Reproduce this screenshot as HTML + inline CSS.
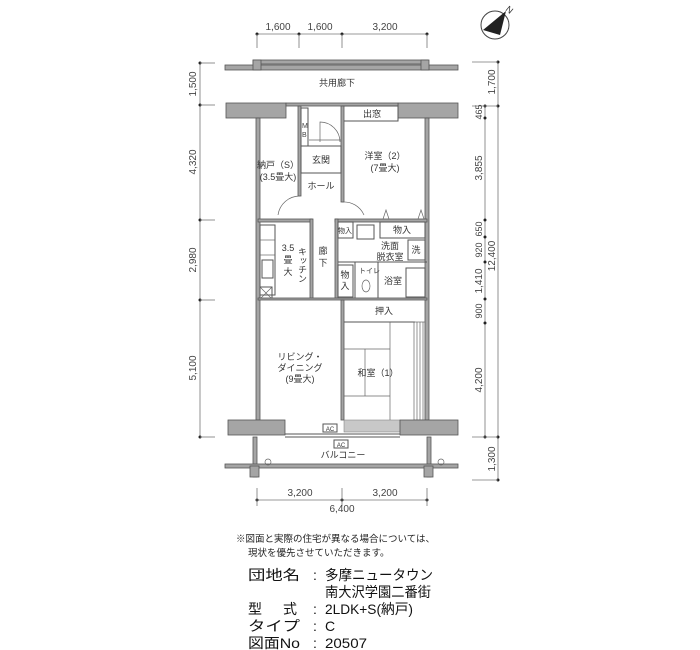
<!DOCTYPE html>
<html><head><meta charset="utf-8"><style>
html,body{margin:0;padding:0;background:#fff;}
svg{display:block;font-family:"Liberation Sans","Noto Sans CJK JP",sans-serif;}
.w{fill:#a5a5a5;stroke:#555;stroke-width:0.8}
.l{stroke:#555;stroke-width:1;fill:none}
.t{stroke:#666;stroke-width:0.7;fill:none}
.d{stroke:#777;stroke-width:0.8;fill:none}
.s{font-size:9px;fill:#333}
.dm{font-size:10px;fill:#444}
</style></head><body>
<svg width="700" height="650" viewBox="0 0 700 650" xmlns="http://www.w3.org/2000/svg">
<!-- top dimension -->
<line class="d" x1="257" y1="34" x2="427" y2="34"/>
<g fill="#222"><circle cx="257" cy="34" r="1.5"/><circle cx="299" cy="34" r="1.5"/><circle cx="342" cy="34" r="1.5"/><circle cx="427" cy="34" r="1.5"/></g>
<line class="d" x1="257" y1="34" x2="257" y2="48"/><line class="d" x1="299" y1="34" x2="299" y2="48"/><line class="d" x1="342" y1="34" x2="342" y2="48"/><line class="d" x1="427" y1="34" x2="427" y2="48"/>
<text class="dm" x="278" y="30" text-anchor="middle">1,600</text>
<text class="dm" x="320" y="30" text-anchor="middle">1,600</text>
<text class="dm" x="385" y="30" text-anchor="middle">3,200</text>
<!-- compass -->
<circle cx="495" cy="25" r="14" fill="none" stroke="#444" stroke-width="1"/>
<polygon points="483,30 506,11 500,35" fill="#222"/>
<text x="505" y="10" font-size="9" fill="#333" transform="rotate(40 505 10)">N</text>

<!-- left dimension -->
<line class="d" x1="200" y1="63" x2="200" y2="437"/>
<g fill="#222"><circle cx="200" cy="63" r="1.5"/><circle cx="200" cy="105" r="1.5"/><circle cx="200" cy="220" r="1.5"/><circle cx="200" cy="300" r="1.5"/><circle cx="200" cy="437" r="1.5"/></g>
<g class="d"><line x1="200" y1="63" x2="215" y2="63"/><line x1="200" y1="105" x2="215" y2="105"/><line x1="200" y1="220" x2="215" y2="220"/><line x1="200" y1="300" x2="215" y2="300"/><line x1="200" y1="437" x2="215" y2="437"/></g>
<g class="dm" text-anchor="middle">
<text transform="translate(196 84) rotate(-90)">1,500</text>
<text transform="translate(196 162) rotate(-90)">4,320</text>
<text transform="translate(196 260) rotate(-90)">2,980</text>
<text transform="translate(196 368) rotate(-90)">5,100</text>
</g>
<!-- right dimensions -->
<line class="d" x1="485" y1="106" x2="485" y2="437"/>
<line class="d" x1="498" y1="62" x2="498" y2="480"/>
<g fill="#222">
<circle cx="498" cy="62" r="1.5"/><circle cx="498" cy="106" r="1.5"/><circle cx="498" cy="437" r="1.5"/><circle cx="498" cy="480" r="1.5"/>
<circle cx="485" cy="106" r="1.5"/><circle cx="485" cy="118" r="1.5"/><circle cx="485" cy="220" r="1.5"/><circle cx="485" cy="237" r="1.5"/><circle cx="485" cy="262" r="1.5"/><circle cx="485" cy="299" r="1.5"/><circle cx="485" cy="323" r="1.5"/><circle cx="485" cy="437" r="1.5"/>
</g>
<g class="d"><line x1="472" y1="62" x2="498" y2="62"/><line x1="472" y1="106" x2="498" y2="106"/><line x1="472" y1="437" x2="498" y2="437"/><line x1="472" y1="480" x2="498" y2="480"/></g>
<g class="dm" text-anchor="middle">
<text transform="translate(495 82) rotate(-90)">1,700</text>
<text transform="translate(482 112) rotate(-90)" font-size="9">465</text>
<text transform="translate(482 168) rotate(-90)">3,855</text>
<text transform="translate(482 229) rotate(-90)" font-size="9">650</text>
<text transform="translate(482 250) rotate(-90)" font-size="9">920</text>
<text transform="translate(482 281) rotate(-90)">1,410</text>
<text transform="translate(482 311) rotate(-90)" font-size="9">900</text>
<text transform="translate(482 380) rotate(-90)">4,200</text>
<text transform="translate(495 256) rotate(-90)">12,400</text>
<text transform="translate(495 459) rotate(-90)">1,300</text>
</g>

<!-- corridor parapet -->
<rect class="w" x="225" y="65" width="233" height="5"/>
<rect class="w" x="253" y="60" width="175" height="4"/>
<rect class="w" x="253" y="60" width="8" height="10"/><rect class="w" x="421" y="60" width="8" height="10"/>
<text class="s" x="337" y="86" text-anchor="middle">共用廊下</text>

<!-- top building wall -->
<rect class="w" x="226" y="103" width="60" height="15"/>
<rect class="w" x="398" y="103" width="60" height="15"/>
<rect class="w" x="286" y="103" width="112" height="3"/>
<rect class="l" x="343" y="106" width="55" height="15"/>
<text class="s" x="372" y="117" text-anchor="middle">出窓</text>

<!-- exterior walls -->
<rect class="w" x="256" y="118" width="4" height="302"/>
<rect class="w" x="425" y="118" width="4" height="302"/>

<!-- upper rooms -->
<rect class="w" x="298" y="106" width="3" height="90"/>
<rect class="w" x="341" y="106" width="3" height="96"/>
<rect class="l" x="301" y="108" width="7" height="38"/>
<text x="302" y="128" font-size="7" fill="#444">M</text><text x="302" y="137" font-size="7" fill="#444">B</text>
<line class="t" x1="309" y1="140" x2="341" y2="140"/>
<path class="t" d="M340 142 A 20 20 0 0 0 320 122 L320 142"/>
<rect class="l" x="301" y="146" width="40" height="27"/>
<text class="s" x="321" y="163" text-anchor="middle">玄関</text>
<text class="s" x="321" y="189" text-anchor="middle">ホール</text>
<text class="s" x="278" y="168" text-anchor="middle">納戸（S）</text>
<text class="s" x="278" y="180" text-anchor="middle">(3.5畳大)</text>
<text class="s" x="385" y="159" text-anchor="middle">洋室（2）</text>
<text class="s" x="385" y="171" text-anchor="middle">(7畳大)</text>
<path class="t" d="M278 215 A 22 22 0 0 1 300 196"/>
<path class="t" d="M342 202 A 22 22 0 0 1 364 215"/>

<!-- middle band walls -->
<rect class="w" x="258" y="219" width="54" height="3"/>
<rect class="w" x="335" y="219" width="92" height="3"/>
<rect class="w" x="310" y="219" width="3" height="80"/>
<rect class="w" x="335" y="219" width="3" height="80"/>
<rect class="l" x="260" y="225" width="15" height="70"/>
<line class="t" x1="260" y1="240" x2="275" y2="240"/><line class="t" x1="260" y1="255" x2="275" y2="255"/>
<rect class="l" x="262" y="260" width="11" height="18"/>
<rect class="l" x="260" y="287" width="12" height="12"/><path class="t" d="M260 287 L272 299 M272 287 L260 299"/>
<text class="s" x="288" y="251" text-anchor="middle">3.5</text>
<text class="s" x="288" y="263" text-anchor="middle">畳</text>
<text class="s" x="288" y="275" text-anchor="middle">大</text>
<text class="s" x="302" y="247" writing-mode="tb">キッチン</text>
<text class="s" x="323" y="254" text-anchor="middle">廊</text>
<text class="s" x="323" y="266" text-anchor="middle">下</text>
<rect class="l" x="338" y="222" width="15" height="16"/><text x="345" y="233" font-size="7" fill="#333" text-anchor="middle">物入</text>
<rect class="l" x="357" y="225" width="17" height="14"/>
<rect class="l" x="380" y="222" width="45" height="16"/><text class="s" x="402" y="233" text-anchor="middle">物入</text>
<path class="t" d="M383 219 L386 210 L389 219 M418 219 L421 210 L424 219"/>
<text class="s" x="390" y="249" text-anchor="middle">洗面</text>
<text class="s" x="390" y="260" text-anchor="middle">脱衣室</text>
<rect class="l" x="408" y="240" width="17" height="20"/><text class="s" x="416" y="253" text-anchor="middle">洗</text>
<line class="l" x1="338" y1="262" x2="427" y2="262"/>
<rect class="l" x="338" y="265" width="15" height="32"/><text class="s" x="345" y="278" text-anchor="middle">物</text><text class="s" x="345" y="289" text-anchor="middle">入</text>
<line class="l" x1="355" y1="262" x2="355" y2="299"/>
<line class="l" x1="378" y1="262" x2="378" y2="299"/>
<text x="359" y="273" font-size="7" fill="#333">トイレ</text>
<ellipse class="t" cx="366" cy="286" rx="4" ry="6"/>
<text class="s" x="393" y="284" text-anchor="middle">浴室</text>
<rect class="l" x="406" y="268" width="19" height="29"/>
<rect class="w" x="258" y="298" width="169" height="2"/>

<!-- lower rooms -->
<rect class="w" x="341" y="300" width="3" height="120"/>
<text class="s" x="384" y="314" text-anchor="middle">押入</text>
<line class="l" x1="344" y1="322" x2="415" y2="322"/>
<rect class="t" x="414" y="322" width="11" height="98"/>
<line class="t" x1="417" y1="322" x2="417" y2="420"/><line class="t" x1="420" y1="322" x2="420" y2="420"/><line class="t" x1="423" y1="322" x2="423" y2="420"/>
<line class="t" x1="390" y1="322" x2="390" y2="420"/>
<line class="t" x1="344" y1="349" x2="390" y2="349"/>
<line class="t" x1="344" y1="396" x2="390" y2="396"/>
<line class="t" x1="365" y1="349" x2="365" y2="396"/>
<text class="s" x="378" y="376" text-anchor="middle">和室（1）</text>
<text class="s" x="300" y="360" text-anchor="middle">リビング・</text>
<text class="s" x="300" y="371" text-anchor="middle">ダイニング</text>
<text class="s" x="300" y="382" text-anchor="middle">(9畳大)</text>
<rect x="344" y="420" width="56" height="12" fill="#c8c8c8" stroke="#777" stroke-width="0.5"/>

<!-- bottom wall -->
<rect class="w" x="228" y="420" width="57" height="15"/>
<rect class="w" x="400" y="420" width="58" height="15"/>
<line class="l" x1="285" y1="434" x2="400" y2="434"/><line class="l" x1="285" y1="437" x2="400" y2="437"/>
<rect class="l" x="323" y="424" width="14" height="8"/><text x="330" y="431" font-size="6" fill="#333" text-anchor="middle">AC</text>
<rect class="l" x="334" y="440" width="14" height="8"/><text x="341" y="447" font-size="6" fill="#333" text-anchor="middle">AC</text>
<text class="s" x="343" y="458" text-anchor="middle">バルコニー</text>
<!-- balcony -->
<rect class="w" x="253" y="437" width="4" height="40"/>
<rect class="w" x="427" y="437" width="4" height="40"/>
<rect class="w" x="225" y="464" width="233" height="4"/>
<rect class="w" x="250" y="466" width="9" height="11"/><rect class="w" x="424" y="466" width="9" height="11"/>
<circle class="t" cx="268" cy="462" r="3"/><circle class="t" cx="441" cy="462" r="3"/>

<!-- bottom dimension -->
<line class="d" x1="257" y1="500" x2="427" y2="500"/>
<g fill="#222"><circle cx="257" cy="500" r="1.5"/><circle cx="342" cy="500" r="1.5"/><circle cx="427" cy="500" r="1.5"/></g>
<line class="d" x1="257" y1="488" x2="257" y2="506"/><line class="d" x1="342" y1="488" x2="342" y2="506"/><line class="d" x1="427" y1="488" x2="427" y2="506"/>
<text class="dm" x="300" y="496" text-anchor="middle">3,200</text>
<text class="dm" x="385" y="496" text-anchor="middle">3,200</text>
<text class="dm" x="342" y="512" text-anchor="middle">6,400</text>

<!-- notes -->
<text x="236" y="542" font-size="9.5" fill="#222">※図面と実際の住宅が異なる場合については、</text>
<text x="248" y="556" font-size="9.5" fill="#222">現状を優先させていただきます。</text>
<g font-size="14" fill="#111">
<text x="248" y="580" textLength="52" lengthAdjust="spacingAndGlyphs">団地名</text>
<text x="313" y="580">:</text>
<text x="325" y="580" textLength="108" lengthAdjust="spacingAndGlyphs">多摩ニュータウン</text>
<text x="325" y="597" textLength="106" lengthAdjust="spacingAndGlyphs">南大沢学園二番街</text>
<text x="248" y="614">型</text><text x="283" y="614">式</text>
<text x="313" y="614">:</text>
<text x="325" y="614" textLength="88" lengthAdjust="spacingAndGlyphs">2LDK+S(納戸)</text>
<text x="248" y="631" textLength="52" lengthAdjust="spacingAndGlyphs">タイプ</text>
<text x="313" y="631">:</text>
<text x="325" y="631">C</text>
<text x="248" y="648" textLength="52" lengthAdjust="spacingAndGlyphs">図面No</text>
<text x="313" y="648">:</text>
<text x="325" y="648" textLength="42" lengthAdjust="spacingAndGlyphs">20507</text>
</g>
</svg>
</body></html>
